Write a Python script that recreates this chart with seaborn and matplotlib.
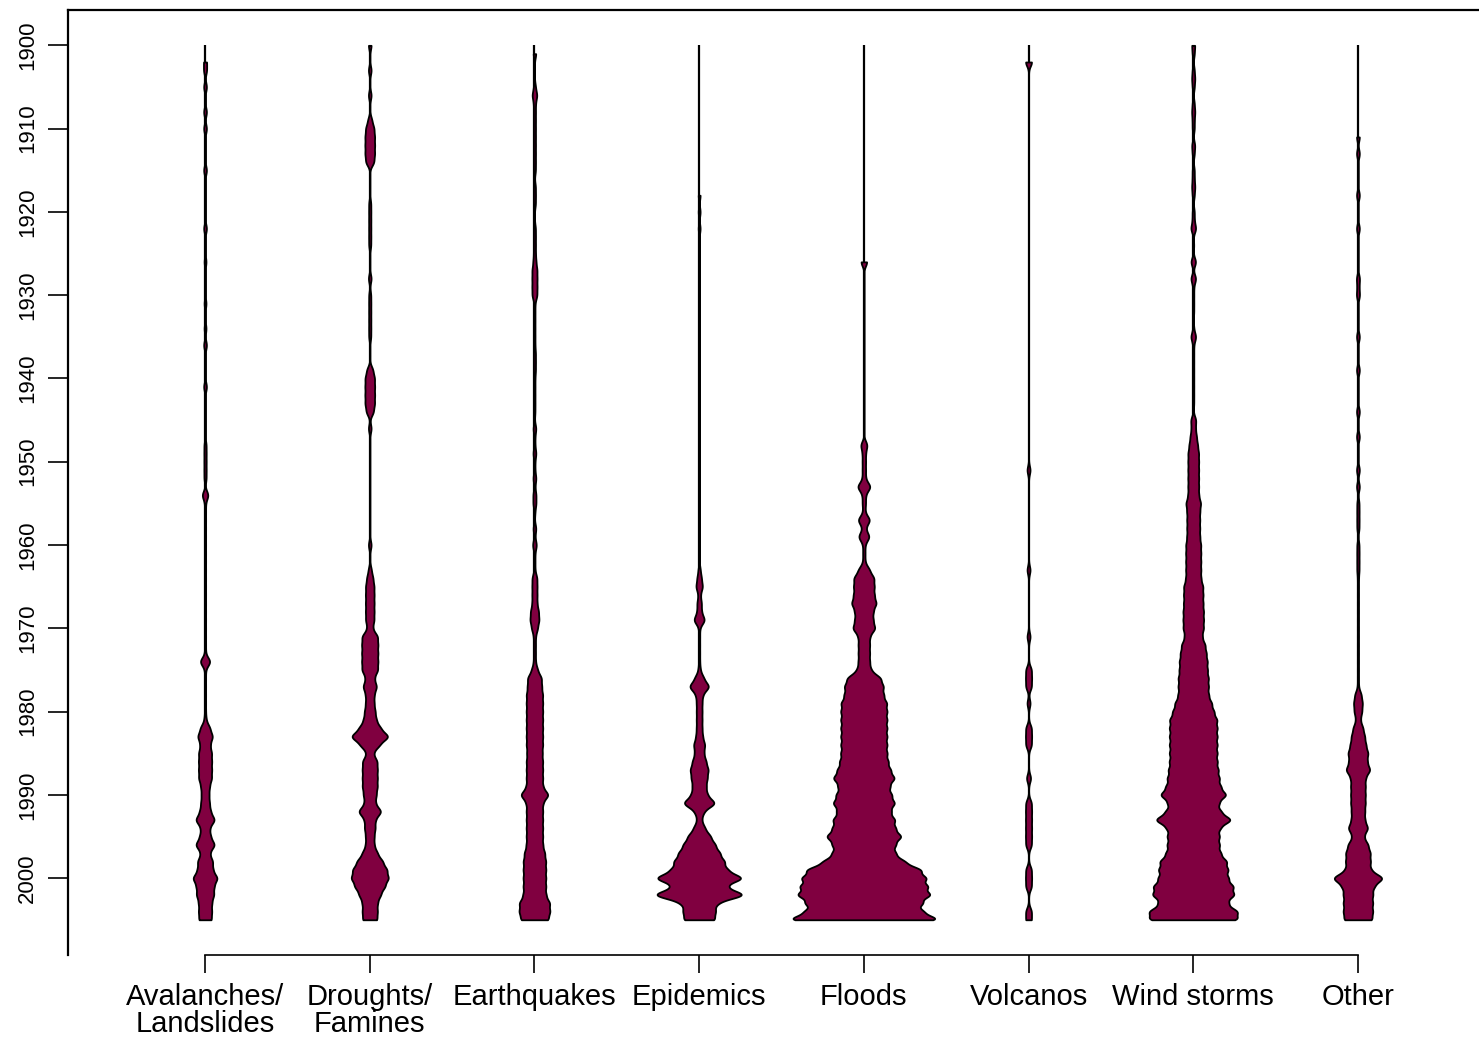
import numpy as np
import matplotlib
matplotlib.use("Agg")
import matplotlib.pyplot as plt
import pandas as pd
import seaborn as sns

sns.set_style("white")
plt.rcParams['font.family'] = ['Liberation Sans', 'DejaVu Sans']

types = ["Avalanches/\nLandslides", "Droughts/\nFamines", "Earthquakes", "Epidemics",
         "Floods", "Volcanos", "Wind storms", "Other"]
years = np.arange(1900, 2006)

# events per year (1900..2005)
avalanches = [0, 0, 3, 3, 0, 3, 0, 0, 3, 0,
              3, 0, 0, 0, 0, 3, 0, 0, 0, 0,
              0, 0, 3, 0, 0, 0, 2, 0, 0, 0,
              0, 2, 0, 0, 2, 0, 3, 0, 0, 0,
              0, 3, 0, 0, 0, 0, 0, 0, 2, 2,
              2, 2, 2, 0, 6, 1, 1, 1, 1, 1,
              1, 1, 1, 1, 1, 1, 1, 1, 1, 1,
              1, 1, 1, 1, 10, 1, 1, 1, 1, 1,
              1, 2, 9, 14, 9, 12, 12, 12, 12, 8,
              7, 8, 10, 18, 8, 10, 18, 8, 14, 14,
              23, 16, 16, 12, 12, 12]
droughts = [3, 0, 0, 3, 0, 0, 3, 0, 0, 4,
            8, 9, 9, 9, 8, 0, 0, 0, 0, 2,
            2, 2, 2, 2, 2, 0, 0, 0, 3, 0,
            2, 2, 2, 2, 2, 2, 0, 0, 0, 6,
            9, 9, 9, 9, 7, 0, 3, 0, 0, 0,
            0, 0, 0, 0, 0, 0, 0, 0, 0, 0,
            3, 0, 0, 3, 6, 8, 8, 8, 8, 8,
            5, 15, 15, 15, 15, 15, 8, 13, 8, 8,
            10, 12, 20, 36, 18, 6, 14, 14, 14, 14,
            12, 10, 22, 10, 10, 8, 8, 14, 24, 32,
            35, 28, 20, 14, 14, 14]
earthquakes = [0, 3, 0, 0, 0, 2, 5, 2, 2, 2,
               2, 2, 2, 2, 2, 2, 0, 2, 2, 2,
               0, 0, 2, 2, 2, 2, 3, 5, 5, 5,
               5, 1, 1, 1, 1, 1, 1, 2, 2, 2,
               1, 1, 1, 1, 1, 0, 3, 1, 1, 3,
               1, 1, 3, 1, 3, 3, 1, 0, 3, 1,
               4, 1, 1, 1, 5, 5, 5, 5, 8, 9,
               6, 2, 2, 2, 2, 6, 14, 14, 16, 16,
               16, 16, 16, 16, 16, 15, 16, 16, 16, 16,
               28, 16, 16, 16, 16, 16, 16, 20, 22, 22,
               22, 22, 22, 30, 30, 28]
epidemics = [0, 0, 0, 0, 0, 0, 0, 0, 0, 0,
             0, 0, 0, 0, 0, 0, 0, 0, 2, 0,
             2, 0, 2, 0, 0, 0, 0, 0, 0, 0,
             0, 0, 0, 0, 0, 0, 0, 0, 0, 0,
             0, 0, 0, 0, 0, 0, 0, 0, 0, 0,
             0, 0, 0, 0, 0, 0, 0, 0, 0, 0,
             0, 0, 0, 2, 4, 6, 2, 4, 4, 10,
             1, 1, 1, 1, 1, 2, 8, 18, 6, 5,
             5, 5, 5, 6, 10, 8, 12, 16, 14, 12,
             14, 29, 8, 4, 10, 20, 28, 36, 44, 48,
             78, 44, 82, 30, 28, 28]
floods = [0, 0, 0, 0, 0, 0, 0, 0, 0, 0,
          0, 0, 0, 0, 0, 0, 0, 0, 0, 0,
          0, 0, 0, 0, 0, 0, 6, 0, 0, 0,
          0, 0, 0, 0, 0, 0, 0, 0, 0, 0,
          0, 0, 0, 0, 0, 0, 0, 0, 6, 3,
          3, 3, 3, 12, 3, 3, 2, 11, 3, 10,
          2, 2, 2, 10, 18, 18, 18, 22, 16, 16,
          20, 10, 10, 10, 10, 12, 30, 34, 34, 40,
          40, 40, 40, 40, 40, 40, 42, 46, 54, 44,
          48, 54, 46, 54, 54, 66, 54, 54, 70, 100,
          108, 110, 116, 100, 100, 138]
volcanos = [0, 0, 6, 0, 0, 0, 0, 0, 0, 0,
            0, 0, 0, 0, 0, 0, 0, 0, 0, 0,
            0, 0, 0, 0, 0, 0, 0, 0, 0, 0,
            0, 0, 0, 0, 0, 0, 0, 0, 0, 0,
            0, 0, 0, 0, 0, 0, 0, 0, 0, 0,
            0, 3, 0, 0, 0, 0, 0, 0, 0, 0,
            0, 0, 0, 3, 0, 0, 0, 0, 0, 0,
            0, 3, 0, 0, 0, 5, 5, 5, 0, 3,
            0, 0, 5, 5, 5, 0, 0, 0, 4, 0,
            0, 5, 5, 5, 5, 5, 5, 0, 0, 5,
            5, 5, 0, 0, 5, 5]
windstorms = [3, 2, 0, 2, 3, 2, 0, 2, 3, 2,
              2, 0, 3, 2, 0, 2, 2, 3, 2, 0,
              2, 2, 5, 0, 1, 0, 5, 0, 5, 1,
              1, 1, 1, 0, 1, 5, 1, 1, 1, 1,
              1, 1, 1, 1, 0, 5, 4, 6, 8, 10,
              10, 10, 10, 10, 10, 14, 12, 12, 12, 12,
              14, 14, 14, 14, 14, 18, 18, 18, 19, 19,
              19, 16, 22, 24, 26, 26, 28, 28, 28, 34,
              38, 44, 44, 44, 44, 44, 44, 46, 48, 50,
              62, 46, 50, 72, 48, 48, 48, 50, 62, 64,
              64, 74, 76, 62, 82, 86]
other = [0, 0, 0, 0, 0, 0, 0, 0, 0, 0,
         0, 3, 0, 3, 0, 0, 0, 0, 3, 0,
         0, 0, 3, 0, 0, 0, 0, 0, 3, 2,
         3, 0, 0, 0, 0, 3, 0, 0, 0, 3,
         0, 0, 0, 0, 3, 0, 0, 3, 0, 0,
         0, 3, 0, 3, 0, 2, 2, 2, 2, 0,
         2, 2, 2, 2, 1, 1, 1, 1, 1, 1,
         1, 1, 1, 1, 1, 1, 1, 1, 6, 8,
         7, 4, 9, 12, 14, 18, 16, 22, 13, 13,
         13, 13, 12, 12, 18, 10, 18, 22, 22, 22,
         46, 28, 26, 26, 26, 26]

counts = [avalanches, droughts, earthquakes, epidemics, floods, volcanos, windstorms, other]
rows = []
for t, c in zip(types, counts):
    for y in np.repeat(years, c):
        rows.append((t, y))
df = pd.DataFrame(rows, columns=["type", "year"])

fig = plt.figure(figsize=(14.79, 10.37), dpi=100)
ax = fig.add_axes([0.046, 0.079, 0.954, 0.911])

# beanline behind each bean over the whole period
ax.vlines(range(len(types)), years[0], years[-1], color="black", linewidth=1.6, zorder=0.5)

# one call per bean so every bean shares the same "events per year" width scale
peak = max(max(c) for c in counts)
for t, c in zip(types, counts):
    sns.violinplot(data=df[df["type"] == t], x="type", y="year", order=types, cut=0,
                   density_norm="width", bw_method=lambda k: 0.5 / np.std(k.dataset, ddof=1),
                   gridsize=1000, inner=None, color="#800040", saturation=1,
                   linecolor="black", linewidth=1.3, width=0.86 * max(c) / peak, ax=ax)

ax.set_xlim(-0.832, 7.735)
ax.set_ylim(2009.24, 1895.8)
ax.set_yticks(range(1900, 2001, 10))
ax.set_xlabel("")
ax.set_ylabel("")
for s in ["top", "left"]:
    ax.spines[s].set_linewidth(1.6)
    ax.spines[s].set_color("black")
ax.spines["right"].set_visible(False)
ax.spines["bottom"].set_bounds(0, 7)
ax.spines["bottom"].set_linewidth(1.2)
ax.spines["bottom"].set_color("black")
ax.tick_params(axis="y", left=True, length=14.4, width=1.2, pad=7, labelsize=16,
               color="black", labelcolor="black")
ax.tick_params(axis="x", bottom=True, length=13, width=1.2, pad=7, labelsize=21,
               color="black", labelcolor="black")
plt.setp(ax.get_yticklabels(), rotation=90, va="center")
plt.setp(ax.get_xticklabels(), linespacing=0.95)

fig.savefig("out.png", dpi=100)
